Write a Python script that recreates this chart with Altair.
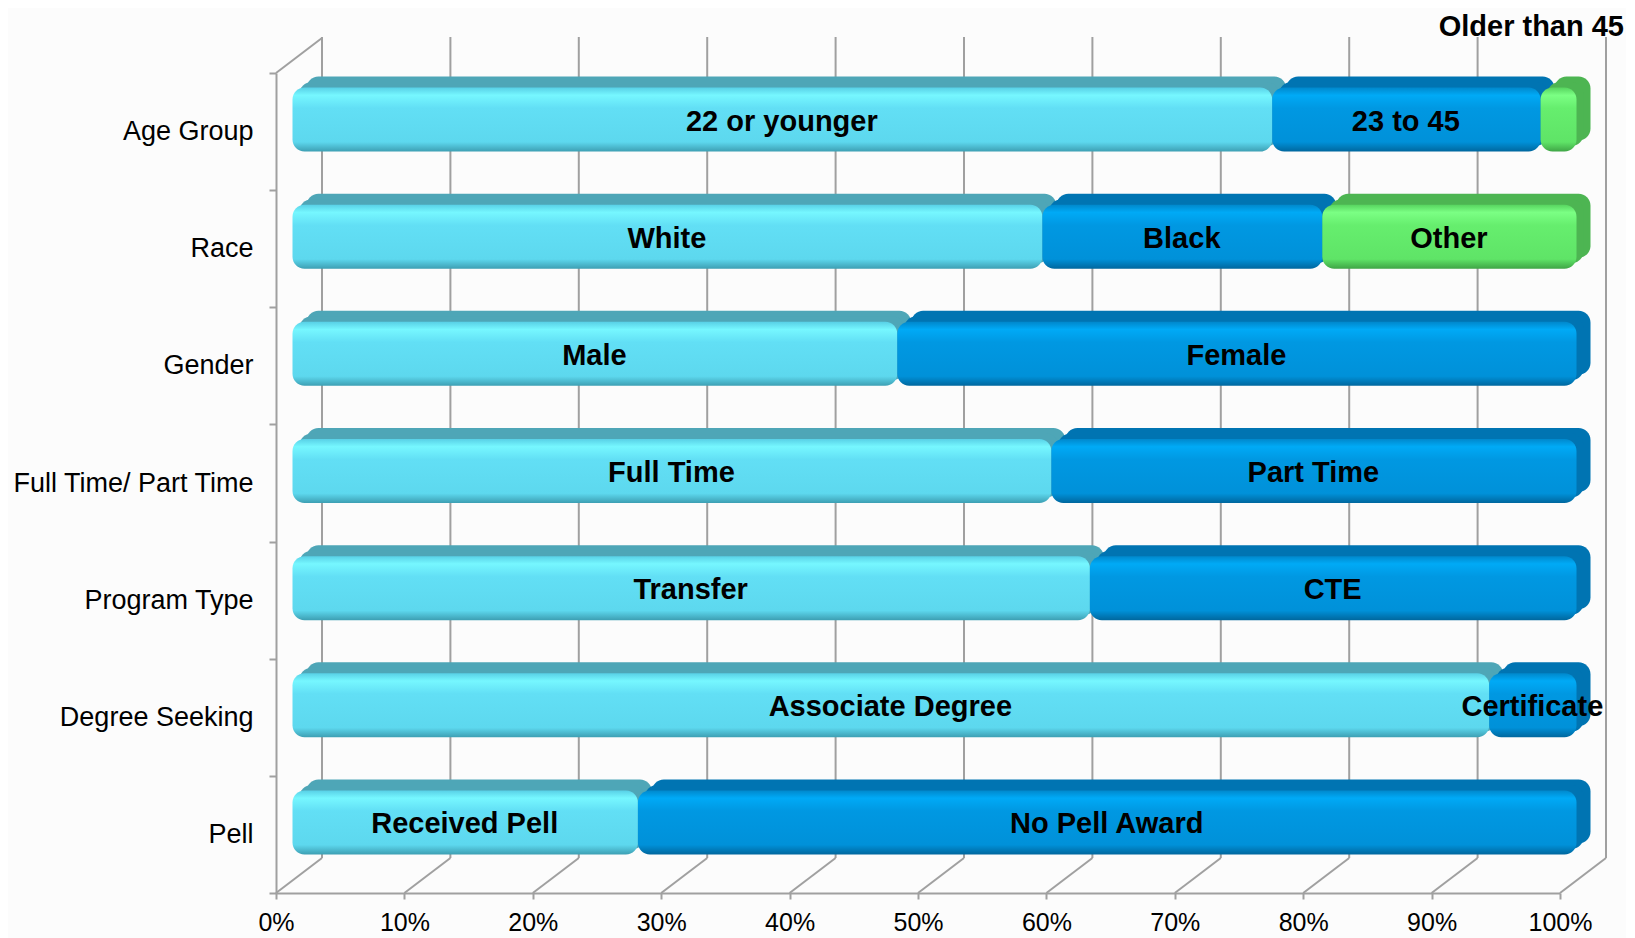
import altair as alt
import pandas as pd

categories = ["Age Group", "Race", "Gender", "Full Time/ Part Time",
              "Program Type", "Degree Seeking", "Pell"]
segment_labels = [
    ["22 or younger", "23 to 45", "Older than 45"],
    ["White", "Black", "Other"],
    ["Male", "Female"],
    ["Full Time", "Part Time"],
    ["Transfer", "CTE"],
    ["Associate Degree", "Certificate"],
    ["Received Pell", "No Pell Award"],
]
segment_values = [
    [76.3, 20.9, 2.8],
    [58.4, 21.8, 19.8],
    [47.1, 52.9],
    [59.1, 40.9],
    [62.1, 37.9],
    [93.2, 6.8],
    [26.9, 73.1],
]
tick_values = [0.0, 0.1, 0.2, 0.3, 0.4, 0.5, 0.6, 0.7, 0.8, 0.9, 1.0]

rows = []
for cat, labs, vals in zip(categories, segment_labels, segment_values):
    acc = 0.0
    for i, (lab, v) in enumerate(zip(labs, vals)):
        rows.append(dict(category=cat, segment=lab, idx=i,
                         start=acc / 100, end=(acc + v) / 100,
                         mid=(acc + v / 2) / 100))
        acc += v
df = pd.DataFrame(rows)
ticks_df = pd.DataFrame({"tick": tick_values})

FONT = "Liberation Sans, Arial, sans-serif"
GRID = "#A0A0A0"

x_scale = alt.Scale(domain=[0, 1], nice=False, zero=True)
y_scale = alt.Scale(domain=categories, paddingInner=0, paddingOuter=0)

x_axis = alt.Axis(values=tick_values, format=".0%", title=None,
                  labelFont=FONT, labelFontSize=25, labelColor="#000",
                  tickColor=GRID, tickWidth=2, tickSize=6,
                  domainColor=GRID, domainWidth=2, labelPadding=11,
                  grid=False, labelFlush=False)
y_axis = alt.Axis(title=None, labelFont=FONT, labelFontSize=27, labelColor="#000",
                  tickColor=GRID, tickWidth=2, tickSize=7, tickBand="extent",
                  domainColor=GRID, domainWidth=2, labelPadding=16, grid=False,
                  labelLimit=400)

DEPTH_X = 46
back_grid = alt.Chart(ticks_df).mark_rule(
    color=GRID, strokeWidth=2, xOffset=DEPTH_X
).encode(
    x=alt.X("tick:Q", scale=x_scale, axis=x_axis),
    y=alt.value(-36), y2=alt.value(785),
)

floor = alt.Chart(ticks_df).mark_rule(
    color=GRID, strokeWidth=2, x2Offset=DEPTH_X
).encode(
    x=alt.X("tick:Q", scale=x_scale, axis=x_axis),
    x2=alt.X2("tick:Q"),
    y=alt.value(820), y2=alt.value(785),
)

left_wall = alt.Chart(pd.DataFrame({"tick": [0.0]})).mark_rule(
    color=GRID, strokeWidth=2, x2Offset=DEPTH_X
).encode(
    x=alt.X("tick:Q", scale=x_scale, axis=x_axis),
    x2=alt.X2("tick:Q"),
    y=alt.value(0), y2=alt.value(-35),
)

side_colors = ["#4EA6B7", "#0074B2", "#4DB552"]
front_stops = [
    ["#58D0E6", "#76F7FF", "#62DFF5", "#5DD8EE", "#3D9FB3"],
    ["#0088CC", "#00AAF6", "#0098E2", "#0091D9", "#00679E"],
    ["#57D45F", "#7BFF84", "#66EE6E", "#5FE467", "#3FA546"],
]
stop_pos = [0.0, 0.12, 0.32, 0.85, 1.0]

FX, FY, BAR_H = 16.5, -12, 64
layers = [back_grid, floor, left_wall]

base = alt.Chart(df)
for i in range(3):
    for xo, yo in [(FX + 14, FY - 11), (FX + 7, FY - 5.5)]:
        layers.append(
            base.transform_filter(alt.datum.idx == i).mark_bar(
                color=side_colors[i], cornerRadius=12, size=BAR_H,
                xOffset=xo, x2Offset=xo, yOffset=yo, y2Offset=yo
            ).encode(
                x=alt.X("start:Q", scale=x_scale, axis=x_axis),
                x2="end:Q",
                y=alt.Y("category:N", scale=y_scale, axis=y_axis),
            )
        )

for i in range(3):
    grad = alt.Gradient(
        gradient="linear",
        stops=[alt.GradientStop(color=c, offset=o) for c, o in zip(front_stops[i], stop_pos)],
        x1=0, x2=0, y1=0, y2=1,
    )
    layers.append(
        base.transform_filter(alt.datum.idx == i).mark_bar(
            color=grad, cornerRadius=12, size=BAR_H,
            xOffset=FX, x2Offset=FX, yOffset=FY, y2Offset=FY
        ).encode(
            x=alt.X("start:Q", scale=x_scale, axis=x_axis),
            x2="end:Q",
            y=alt.Y("category:N", scale=y_scale, axis=y_axis),
        )
    )

labels = base.transform_filter(
    alt.datum.segment != "Older than 45"
).mark_text(
    font=FONT, fontSize=29, fontWeight="bold", color="#000",
    align="center", baseline="middle", dx=16, dy=-10
).encode(
    x=alt.X("mid:Q", scale=x_scale, axis=x_axis),
    y=alt.Y("category:N", scale=y_scale, axis=y_axis),
    text="segment:N",
)

older = base.transform_filter(
    alt.datum.segment == "Older than 45"
).mark_text(
    font=FONT, fontSize=29, fontWeight="bold", color="#000",
    align="right", baseline="middle", dx=64
).encode(
    x=alt.X("end:Q", scale=x_scale, axis=x_axis),
    y=alt.value(-46),
    text="segment:N",
)

layers += [labels, older]

chart = alt.layer(*layers).properties(
    width=1284, height=820,
    padding={"left": 268, "top": 65, "right": 66, "bottom": 45},
    autosize=alt.AutoSizeParams(type="none"),
    background="#FCFCFC",
).configure_view(stroke=None)

chart.save("out.html", embed_options={"renderer": "svg", "actions": False})
